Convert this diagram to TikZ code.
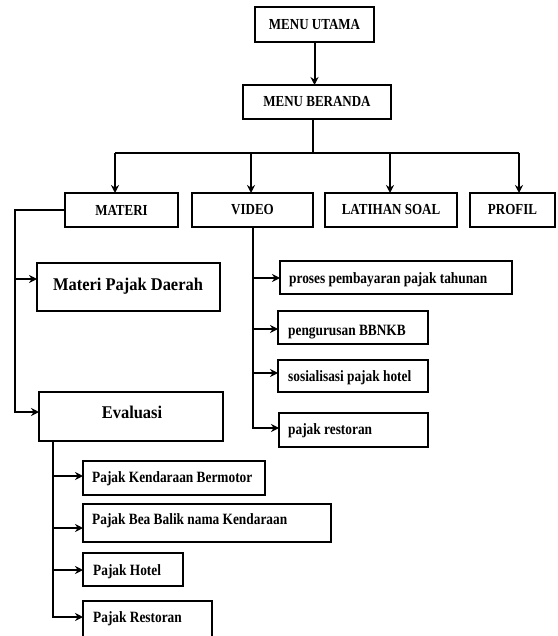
\documentclass[tikz,border=0pt]{standalone}
\usepackage{fontspec}
\setmainfont{Liberation Serif}
\newfontfamily\condfont[FakeStretch=0.85]{Liberation Serif}
\newfontfamily\midfont[FakeStretch=0.92]{Liberation Serif}
\usetikzlibrary{arrows.meta}
\begin{document}
\begin{tikzpicture}[x=1pt,y=-1pt,
  box/.style={draw=black, line width=2pt, inner sep=0pt, outer sep=0pt, anchor=north west,
    font=\condfont\bfseries\fontsize{15.3}{17}\selectfont},
  sub/.style={font=\condfont\bfseries\fontsize{15.7}{17}\selectfont, inner sep=0pt, anchor=base west},
  big/.style={font=\midfont\bfseries\fontsize{17.9}{20}\selectfont, inner sep=0pt, anchor=base},
  ln/.style={line width=2pt},
  arr/.style={line width=2pt, -{Stealth[length=8pt,width=8pt]}}]
\clip (0,0) rectangle (557,636);
\fill[white] (0,0) rectangle (557,636);
% top boxes
\node[box, minimum width=119pt, minimum height=35pt] (ut) at (255,7) {MENU UTAMA};
\node[box, minimum width=148pt, minimum height=34pt] (ber) at (243,85) {MENU BERANDA};
\node[box, minimum width=113pt, minimum height=34pt] (mat) at (65,193) {MATERI};
\node[box, minimum width=121pt, minimum height=34pt] (vid) at (192,193) {VIDEO};
\node[box, minimum width=132pt, minimum height=34pt] (lat) at (325,193) {LATIHAN SOAL};
\node[box, minimum width=85pt, minimum height=34pt] (pro) at (470,193) {PROFIL};
% materi branch
\node[box, minimum width=183pt, minimum height=48pt] (mpd) at (37,263) {};
\node[big] (tmpd) at (128,290) {Materi Pajak Daerah};
\node[box, minimum width=184pt, minimum height=49pt] (eva) at (39,392) {};
\node[big] (teva) at (132,418) {Evaluasi};
% video branch
\node[box, minimum width=232pt, minimum height=33pt] (v1) at (280,261) {};
\node[sub] (tv1) at (289,283) {proses pembayaran pajak tahunan};
\node[box, minimum width=150pt, minimum height=33pt] (v2) at (278,311) {};
\node[sub] (tv2) at (288,335) {pengurusan BBNKB};
\node[box, minimum width=150pt, minimum height=32pt] (v3) at (278,360) {};
\node[sub] (tv3) at (288,381) {sosialisasi pajak hotel};
\node[box, minimum width=149pt, minimum height=34pt] (v4) at (279,413) {};
\node[sub] (tv4) at (288,434) {pajak restoran};
% evaluasi branch
\node[box, minimum width=182pt, minimum height=34pt] (e1) at (83,461) {};
\node[sub] (te1) at (92,482) {Pajak Kendaraan Bermotor};
\node[box, minimum width=248pt, minimum height=38pt] (e2) at (83,504) {};
\node[sub] (te2) at (92,524) {Pajak Bea Balik nama Kendaraan};
\node[box, minimum width=100pt, minimum height=33pt] (e3) at (83,553) {};
\node[sub] (te3) at (93,575) {Pajak Hotel};
\node[box, minimum width=129pt, minimum height=45pt] (e4) at (83,601) {};
\node[sub] (te4) at (93,622) {Pajak Restoran};
% top connectors
\draw[arr] (ut.south) -- (ut.south |- ber.north);
\coordinate (fk) at (313,153);
\coordinate (f1) at (115,153);
\coordinate (f2) at (251,153);
\coordinate (f3) at (390,153);
\coordinate (f4) at (519,153);
\draw[ln] (fk |- ber.south) -- (fk);
\draw[ln] (f1) -- (f4);
\draw[arr] (f1) -- (f1 |- mat.north);
\draw[arr] (f2) -- (f2 |- vid.north);
\draw[arr] (f3) -- (f3 |- lat.north);
\draw[arr] (f4) -- (f4 |- pro.north);
% materi trunk
\coordinate (mt) at (15,210);
\coordinate (ma1) at (15,279);
\coordinate (ma2) at (15,412);
\draw[arr] (mat.west |- mt) -- (mt) -- (ma2) -- (ma2 -| eva.west);
\draw[arr] (ma1) -- (ma1 -| mpd.west);
% video trunk
\coordinate (va1) at (253,278);
\coordinate (va2) at (253,329);
\coordinate (va3) at (253,373);
\coordinate (va4) at (253,428);
\draw[arr] (vid.south -| va4) -- (va4) -- (va4 -| v4.west);
\draw[arr] (va1) -- (va1 -| v1.west);
\draw[arr] (va2) -- (va2 -| v2.west);
\draw[arr] (va3) -- (va3 -| v3.west);
% evaluasi trunk
\coordinate (ea1) at (53,476);
\coordinate (ea2) at (53,528);
\coordinate (ea3) at (53,570);
\coordinate (ea4) at (53,617);
\draw[arr] (eva.south -| ea4) -- (ea4) -- (ea4 -| e4.west);
\draw[arr] (ea1) -- (ea1 -| e1.west);
\draw[arr] (ea2) -- (ea2 -| e2.west);
\draw[arr] (ea3) -- (ea3 -| e3.west);
\end{tikzpicture}
\end{document}
